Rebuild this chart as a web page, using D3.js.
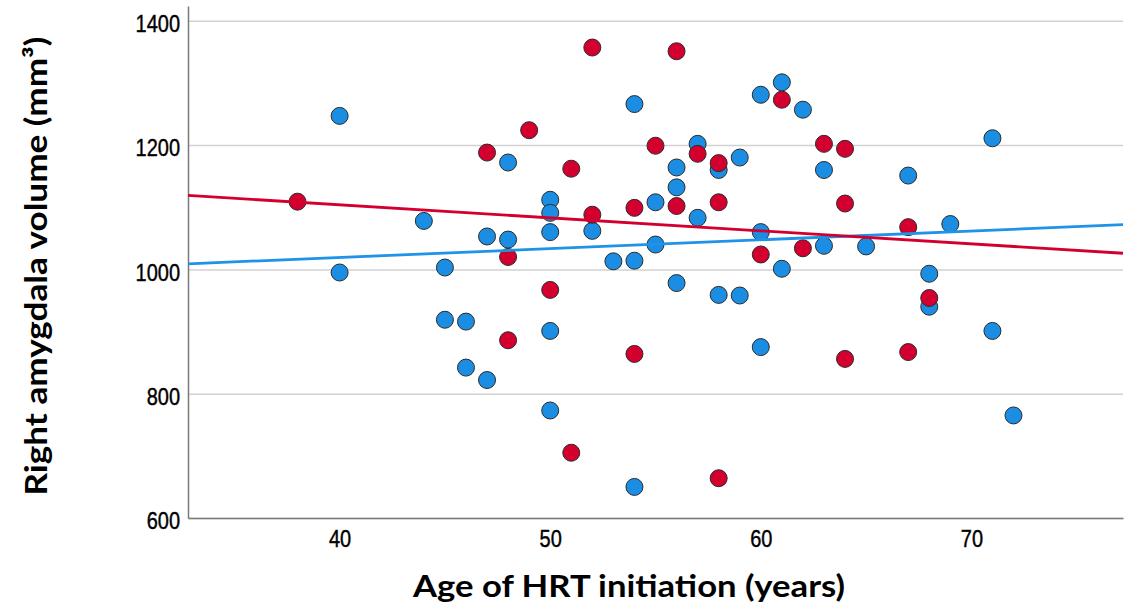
<!DOCTYPE html>
<meta charset="utf-8">
<script src="https://d3js.org/d3.v7.min.js"></script>
<style>
  body { margin: 0; background: #fff; }
  .tick text { font-family: "Liberation Sans", Arial, sans-serif; font-size: 20px; fill: #000; stroke: #000; stroke-width: 0.35px; }
  .title { font-family: Lato, "Open Sans", sans-serif; font-weight: bold; font-size: 30px; fill: #000; }
</style>
<div id="my_dataviz"></div>
<script>
  // group 1 (blue)
  var blueAge = [40, 40, 44, 45, 45, 46, 46, 47, 47, 48, 48, 50, 50, 50, 50, 50, 52, 53, 54, 54,
                 54, 55, 55, 56, 56, 56, 57, 57, 58, 58, 59, 59, 60, 60, 60, 61, 61, 62, 63, 63,
                 65, 67, 68, 68, 69, 71, 71, 72];
  var blueVol = [1247, 995, 1078, 1003, 919, 916, 842, 822, 1053, 1172, 1048, 1112, 1091, 1060, 901, 773, 1062, 1013, 1014, 1266,
                 650, 1108, 1040, 1164, 1132, 978, 1202, 1083, 1160, 959, 1180, 958, 1281, 1060, 875, 1301, 1001, 1257, 1160, 1038,
                 1037, 1151, 993, 940, 1073, 1211, 901, 765];

  // group 2 (red)
  var redAge = [38, 47, 48, 48, 49, 50, 51, 51, 52, 52, 54, 54, 55, 56, 56, 57, 58, 58, 58, 60,
                61, 62, 63, 64, 64, 64, 67, 67, 68];
  var redVol = [1109, 1188, 1020, 886, 1224, 967, 1162, 705, 1357, 1088, 1099, 864, 1199, 1351, 1102, 1186, 1171, 1108, 664, 1024,
                1273, 1034, 1202, 1194, 1106, 856, 1068, 867, 954];

  // fit lines, read at the left and right edge of the plot
  var fitX = [32.8, 77.2];
  var blueFit = [1009, 1072];
  var redFit = [1119, 1026];

  var xTicks = [40, 50, 60, 70];
  var yTicks = [600, 800, 1000, 1200, 1400];

  var blueColor = "#1b8ee3", redColor = "#d3002f";

  var margin = {top: 6, left: 188, right: 9},
      width = 1132 - margin.left - margin.right,
      height = 518 - margin.top;

  var svg = d3.select("#my_dataviz")
    .append("svg")
      .attr("width", 1132)
      .attr("height", 614)
    .append("g")
      .attr("transform", "translate(" + margin.left + "," + margin.top + ")");

  var x = d3.scaleLinear().domain([32.8, 77.2]).range([0, width]);
  var y = d3.scaleLinear().domain([600, 600 + height / 0.6215]).range([height, 0]);

  // gridlines
  svg.append("g")
    .call(d3.axisLeft(y).tickValues(yTicks).tickSize(-width).tickFormat(""))
    .call(function(g) { g.select(".domain").remove(); })
    .selectAll("line")
      .attr("stroke", "#d2d2d2")
      .attr("stroke-width", 1.5);

  // y axis
  var yAxis = svg.append("g")
    .call(d3.axisLeft(y).tickValues(yTicks).tickFormat(d3.format("d")).tickSize(0).tickPadding(8));
  yAxis.select(".domain").attr("stroke", "#7a7a7a").attr("stroke-width", 1.5);
  yAxis.selectAll("text").attr("dy", "0.45em").attr("transform", "scale(1,1.18)");

  // x axis
  var xAxis = svg.append("g")
    .attr("transform", "translate(0," + height + ")")
    .call(d3.axisBottom(x).tickValues(xTicks).tickFormat(d3.format("d")).tickSize(0).tickPadding(10));
  xAxis.select(".domain").attr("stroke", "#7a7a7a").attr("stroke-width", 1.5);
  xAxis.selectAll("text").attr("transform", "scale(1,1.18)");

  function dots(ages, vols, color) {
    svg.append("g").selectAll("circle")
      .data(ages.map(function(a, i) { return {age: a, vol: vols[i]}; }))
      .enter()
      .append("circle")
        .attr("cx", function(d) { return x(d.age); })
        .attr("cy", function(d) { return y(d.vol); })
        .attr("r", 8.5)
        .attr("fill", color)
        .attr("stroke", "#2b2b2b")
        .attr("stroke-width", 1);
  }
  dots(blueAge, blueVol, blueColor);
  dots(redAge, redVol, redColor);

  var line = d3.line()
    .x(function(d) { return x(d[0]); })
    .y(function(d) { return y(d[1]); });

  svg.append("path")
    .datum(fitX.map(function(v, i) { return [v, blueFit[i]]; }))
    .attr("d", line)
    .attr("fill", "none")
    .attr("stroke", "#1f93e8")
    .attr("stroke-width", 2.8);
  svg.append("path")
    .datum(fitX.map(function(v, i) { return [v, redFit[i]]; }))
    .attr("d", line)
    .attr("fill", "none")
    .attr("stroke", redColor)
    .attr("stroke-width", 2.8);

  // axis titles
  d3.select("svg").append("text")
    .attr("class", "title")
    .attr("text-anchor", "middle")
    .attr("x", 629)
    .attr("y", 597)
    .attr("textLength", 432)
    .attr("lengthAdjust", "spacingAndGlyphs")
    .text("Age of HRT initiation (years)");

  d3.select("svg").append("text")
    .attr("class", "title")
    .attr("text-anchor", "middle")
    .attr("transform", "translate(47,266) rotate(-90)")
    .attr("textLength", 459)
    .attr("lengthAdjust", "spacingAndGlyphs")
    .text("Right amygdala volume (mm³)");
</script>
